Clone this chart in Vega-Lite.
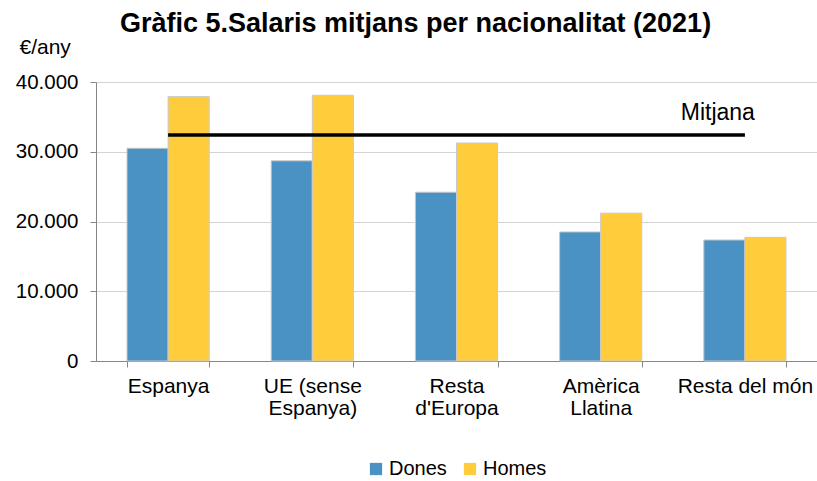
{
  "$schema": "https://vega.github.io/schema/vega-lite/v6.json",
  "width": 721,
  "height": 279,
  "autosize": {"type": "none"},
  "padding": {"left": 96, "top": 82, "right": 0, "bottom": 120},
  "background": "white",
  "config": {"font": "Liberation Sans", "view": {"stroke": null}},
  "title": {
    "text": "Gràfic 5.Salaris mitjans per nacionalitat (2021)",
    "fontSize": 27, "fontWeight": "bold", "color": "black",
    "anchor": "middle", "frame": "group", "dx": -41, "offset": -2
  },
  "datasets": {
    "bars": [
      {"nac": "Espanya", "sexe": "Dones", "salari": 30500},
      {"nac": "Espanya", "sexe": "Homes", "salari": 37900},
      {"nac": "UE (sense Espanya)", "sexe": "Dones", "salari": 28700},
      {"nac": "UE (sense Espanya)", "sexe": "Homes", "salari": 38100},
      {"nac": "Resta d'Europa", "sexe": "Dones", "salari": 24200},
      {"nac": "Resta d'Europa", "sexe": "Homes", "salari": 31250},
      {"nac": "Amèrica Llatina", "sexe": "Dones", "salari": 18500},
      {"nac": "Amèrica Llatina", "sexe": "Homes", "salari": 21200},
      {"nac": "Resta del món", "sexe": "Dones", "salari": 17350},
      {"nac": "Resta del món", "sexe": "Homes", "salari": 17730}
    ],
    "mitjana": [
      {"nac": "Espanya", "v": 32400},
      {"nac": "Resta del món", "v": 32400}
    ],
    "etiqueta": [
      {"nac": "Resta del món", "v": 35500, "text": "Mitjana"}
    ]
  },
  "layer": [
    {
      "data": {"name": "bars"},
      "mark": {"type": "bar", "stroke": "#c8c8c8", "strokeWidth": 1},
      "encoding": {
        "x": {
          "field": "nac", "type": "nominal",
          "sort": ["Espanya", "UE (sense Espanya)", "Resta d'Europa", "Amèrica Llatina", "Resta del món"],
          "scale": {"paddingInner": 0.43, "paddingOuter": 0.215},
          "axis": {
            "title": null, "labelAngle": 0, "tickBand": "extent",
            "domainColor": "#868686", "tickColor": "#868686", "tickSize": 6,
            "labelFontSize": 21, "labelColor": "black", "labelPadding": 8,
            "labelBaseline": "top", "labelLineHeight": 22,
            "labelExpr": "datum.value == 'UE (sense Espanya)' ? ['UE (sense', 'Espanya)'] : datum.value == \"Resta d'Europa\" ? ['Resta', \"d'Europa\"] : datum.value == 'Amèrica Llatina' ? ['Amèrica', 'Llatina'] : datum.value"
          }
        },
        "xOffset": {"field": "sexe", "type": "nominal", "sort": ["Dones", "Homes"], "scale": {"paddingInner": 0, "paddingOuter": 0}},
        "y": {
          "field": "salari", "type": "quantitative",
          "scale": {"domain": [0, 40000], "nice": false},
          "axis": {
            "values": [0, 10000, 20000, 30000, 40000],
            "grid": true, "gridColor": "#d4d4d4",
            "domainColor": "#868686", "tickColor": "#868686", "tickSize": 6,
            "labelFontSize": 20.5, "labelColor": "black", "labelPadding": 12,
            "labelExpr": "replace(format(datum.value, ','), ',', '.')",
            "title": "€/any", "titleAngle": 0, "titleX": -77, "titleY": -35,
            "titleAlign": "left", "titleBaseline": "middle",
            "titleFontSize": 21, "titleFontWeight": "normal", "titleColor": "black"
          }
        },
        "color": {
          "field": "sexe", "type": "nominal",
          "scale": {"domain": ["Dones", "Homes"], "range": ["#4A92C3", "#FFCD3B"]},
          "legend": {
            "title": null, "orient": "none", "legendX": 270, "legendY": 377,
            "direction": "horizontal", "symbolType": "square", "symbolSize": 150,
            "symbolStrokeWidth": 0, "labelFontSize": 20, "labelColor": "black",
            "columnPadding": 13, "labelOffset": 3
          }
        }
      }
    },
    {
      "data": {"name": "mitjana"},
      "mark": {"type": "line", "color": "black", "strokeWidth": 3.5},
      "encoding": {
        "x": {"field": "nac", "type": "nominal", "sort": ["Espanya", "UE (sense Espanya)", "Resta d'Europa", "Amèrica Llatina", "Resta del món"]},
        "y": {"field": "v", "type": "quantitative"}
      }
    },
    {
      "data": {"name": "etiqueta"},
      "mark": {"type": "text", "align": "right", "baseline": "middle", "dx": 10, "fontSize": 23, "color": "black"},
      "encoding": {
        "x": {"field": "nac", "type": "nominal", "sort": ["Espanya", "UE (sense Espanya)", "Resta d'Europa", "Amèrica Llatina", "Resta del món"]},
        "y": {"field": "v", "type": "quantitative"},
        "text": {"field": "text"}
      }
    }
  ]
}
